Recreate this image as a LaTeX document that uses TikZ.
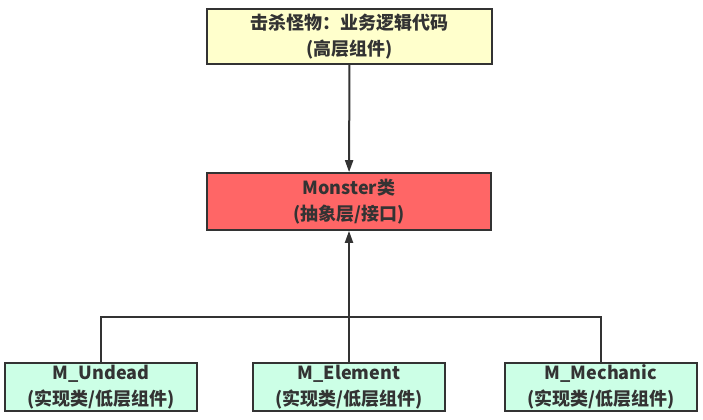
\documentclass[tikz,border=0pt]{standalone}
\usepackage{fontspec}
\setmainfont{Noto Sans CJK SC}
\usepackage{tikz}
\usetikzlibrary{arrows.meta,positioning}
\definecolor{taskfill}{HTML}{FFFFCC}
\definecolor{absfill}{HTML}{FF6666}
\definecolor{implfill}{HTML}{CCFFE6}
\definecolor{edge}{HTML}{333333}

\begin{document}
\begin{tikzpicture}[x=0.75pt,y=-0.75pt,
    box/.style={rectangle, draw=edge, line width=1.5pt, text=edge,
      font=\fontsize{13.5}{19}\selectfont\bfseries, align=center, inner sep=0pt},
    upper/.style={box, minimum width=213.5pt, minimum height=41.5pt},
    lower/.style={box, minimum width=144pt, minimum height=36.5pt},
    link/.style={draw=edge, line width=1.5pt},
    arr/.style={link, -{Triangle[width=6pt,length=9pt]}}]

    \useasboundingbox (0,0) rectangle (703,420);

    \node[upper, fill=taskfill] (task) at (349.5,36.5) {击杀怪物：业务逻辑代码\\(高层组件)};
    \node[upper, fill=absfill, minimum height=42.5pt] (monster) at (349,201.5) {Monster类\\(抽象层/接口)};

    \node[lower, fill=implfill] (undead) at (101,387) {M\_Undead\\(实现类/低层组件)};
    \node[lower, fill=implfill] (element) at (349,387) {M\_Element\\(实现类/低层组件)};
    \node[lower, fill=implfill] (mechanic) at (601,387) {M\_Mechanic\\(实现类/低层组件)};

    \coordinate (bus) at (349,317);

    \draw[arr] (task) -- (monster);
    \draw[arr] (element) -- (monster);
    \draw[link] (undead.north) |- (bus) -| (mechanic.north);
\end{tikzpicture}
\end{document}
